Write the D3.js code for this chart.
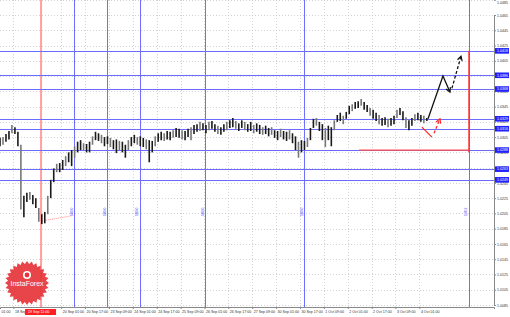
<!DOCTYPE html>
<html>
<head>
<meta charset="utf-8">
<script src="https://cdn.jsdelivr.net/npm/d3@7/dist/d3.min.js"></script>
<style>
body{margin:0;background:#fff}
svg{display:block;font-family:"Liberation Sans",Arial,sans-serif}
</style>
</head>
<body>
<div id="chart"></div>
<script>
// hourly chart, one bar per 2 hours (hour index from left edge)
var barHigh=[1.0304,1.0305,1.0309,1.0313,1.0321,1.0318,1.0312,1.0295,1.0228,1.0232,
1.0233,1.0229,1.0225,1.0212,1.0204,1.0207,1.0228,1.0249,1.0264,1.0270,
1.0271,1.0275,1.0280,1.0285,1.0288,1.0293,1.0299,1.0301,1.0297,1.0296,
1.0299,1.0306,1.0312,1.0310,1.0308,1.0305,1.0306,1.0304,1.0301,1.0302,
1.0300,1.0299,1.0295,1.0301,1.0305,1.0308,1.0305,1.0306,1.0304,1.0302,
1.0301,1.0300,1.0306,1.0310,1.0312,1.0310,1.0313,1.0312,1.0314,1.0317,
1.0316,1.0314,1.0313,1.0316,1.0318,1.0321,1.0322,1.0325,1.0323,1.0321,
1.0325,1.0326,1.0322,1.0320,1.0318,1.0322,1.0325,1.0327,1.0330,1.0326,
1.0323,1.0327,1.0325,1.0322,1.0325,1.0321,1.0323,1.0321,1.0318,1.0320,
1.0317,1.0318,1.0314,1.0313,1.0316,1.0313,1.0312,1.0314,1.0310,1.0306,
1.0299,1.0301,1.0300,1.0304,1.0317,1.0329,1.0330,1.0325,1.0322,1.0317,
1.0320,1.0318,1.0327,1.0334,1.0337,1.0333,1.0338,1.0346,1.0348,1.0351,
1.0352,1.0355,1.0351,1.0347,1.0343,1.0341,1.0337,1.0334,1.0330,1.0331,
1.0329,1.0330,1.0333,1.0341,1.0343,1.0339,1.0331,1.0327,1.0330,1.0335,
1.0337,1.0334,1.0333,1.0330];
var barLow=[1.0293,1.0295,1.0299,1.0302,1.0310,1.0309,1.0293,1.0210,1.0200,1.0220,
1.0223,1.0217,1.0212,1.0194,1.0191,1.0192,1.0204,1.0225,1.0246,1.0259,
1.0259,1.0262,1.0267,1.0272,1.0267,1.0278,1.0285,1.0288,1.0288,1.0285,
1.0285,1.0295,1.0301,1.0300,1.0297,1.0293,1.0296,1.0292,1.0289,1.0284,
1.0288,1.0285,1.0278,1.0288,1.0293,1.0297,1.0295,1.0293,1.0292,1.0289,
1.0272,1.0285,1.0293,1.0299,1.0301,1.0300,1.0302,1.0301,1.0304,1.0305,
1.0304,1.0302,1.0301,1.0305,1.0301,1.0309,1.0312,1.0313,1.0314,1.0310,
1.0314,1.0316,1.0312,1.0309,1.0308,1.0312,1.0314,1.0317,1.0318,1.0316,
1.0313,1.0317,1.0314,1.0312,1.0313,1.0310,1.0312,1.0309,1.0308,1.0309,
1.0306,1.0308,1.0304,1.0301,1.0305,1.0302,1.0300,1.0302,1.0297,1.0288,
1.0278,1.0285,1.0288,1.0292,1.0301,1.0317,1.0320,1.0313,1.0301,1.0292,
1.0301,1.0293,1.0314,1.0325,1.0326,1.0322,1.0329,1.0335,1.0339,1.0342,
1.0343,1.0346,1.0341,1.0338,1.0333,1.0329,1.0326,1.0322,1.0320,1.0321,
1.0318,1.0320,1.0322,1.0330,1.0334,1.0327,1.0317,1.0314,1.0320,1.0326,
1.0327,1.0325,1.0323,1.0326];

var priceTicks=[1.0485,1.0465,1.0445,1.0425,1.0405,1.0385,1.0365,1.0345,1.0325,1.0305,1.0285,
1.0265,1.0245,1.0225,1.0205,1.0185,1.0165,1.0145,1.0125,1.0105,1.0085];
// first two labels are partly hidden in the original (edge / red time box)
var timeHours=[-7,9,41,57,73,89,105,121,137,153,169,185,201,217,233,249,265,281];
var timeLabels=["01:00","18 Sep","20 Sep 01:00","20 Sep 17:00",
"23 Sep 09:00","24 Sep 01:00","24 Sep 17:00","25 Sep 09:00","26 Sep 01:00","26 Sep 17:00",
"27 Sep 09:00","30 Sep 01:00","30 Sep 17:00","1 Oct 09:00","2 Oct 01:00","2 Oct 17:00",
"3 Oct 09:00","4 Oct 01:00"];

var levels=[1.0418,1.0386,1.0368,1.0329,1.0316,1.0288,1.0263,1.0249];
var timeLines=[49.6,71.7,93.8,137.4,203.7,314.2];
var timeLineNames=["100.0","100.0","100.0","100.0","100.0","138.2"];
var redLineHour=27.5, redLineLabel="19 Sep 11:00";

// drawn objects: [hour, price]
var redTrend=[[28.1,1.0195],[48.2,1.0202]];
var redHoriz=[[240.5,1.0288],[314.2,1.0288]];
var redVert=[[314.2,1.0418],[314.2,1.0285]];
var blackUp=[[286.8,1.0329],[296.8,1.0385],[301.5,1.0364]];
var blackDash=[[302.8,1.0369],[308.9,1.0411]];
var redDown=[[282.7,1.0318],[289.4,1.0305]];
var redDash=[[290.8,1.0310],[294.8,1.0329]];

var W=510,H=317,plotR=494,plotB=307;

var svg=d3.select("#chart").append("svg").attr("width",W).attr("height",H);

var x=d3.scaleLinear().domain([0,331]).range([0,plotR]);
var y=d3.scaleLinear().domain([1.0085,1.0465]).range([305,15]);

// grid
svg.append("g").selectAll("line").data(priceTicks).enter().append("line")
  .attr("x1",0).attr("x2",plotR).attr("y1",d=>Math.round(y(d))+0.5).attr("y2",d=>Math.round(y(d))+0.5)
  .attr("stroke","#c8c8c8").attr("stroke-width",0.8).attr("stroke-dasharray","1,2");
svg.append("g").selectAll("line").data(timeHours).enter().append("line")
  .attr("x1",d=>Math.round(x(d))+0.5).attr("x2",d=>Math.round(x(d))+0.5).attr("y1",0).attr("y2",plotB)
  .attr("stroke","#c8c8c8").attr("stroke-width",0.8).attr("stroke-dasharray","1,2");

// red vertical line (wide, translucent)
svg.append("line").attr("x1",x(redLineHour)).attr("x2",x(redLineHour)).attr("y1",0).attr("y2",plotB)
  .attr("stroke","#ff6060").attr("stroke-opacity",0.6).attr("stroke-width",2);

// levels
svg.append("g").selectAll("line").data(levels).enter().append("line")
  .attr("x1",0).attr("x2",plotR).attr("y1",d=>Math.round(y(d))+0.5).attr("y2",d=>Math.round(y(d))+0.5)
  .attr("stroke","#6b6bff").attr("stroke-width",1);

// time lines
svg.append("g").selectAll("line").data(timeLines).enter().append("line")
  .attr("x1",d=>Math.round(x(d))+0.5).attr("x2",d=>Math.round(x(d))+0.5).attr("y1",0).attr("y2",plotB)
  .attr("stroke","#7070ff").attr("stroke-width",1);
svg.append("g").selectAll("text").data(timeLines).enter().append("text")
  .attr("transform",d=>"translate("+(x(d)-1.5)+",216) rotate(-90)")
  .attr("font-size",3.4).attr("fill","#5050ff").text((d,i)=>timeLineNames[i]);

var line=d3.line().x(d=>x(d[0])).y(d=>y(d[1]));

// red dotted trend
svg.append("path").attr("d",line(redTrend)).attr("fill","none")
  .attr("stroke","#ff7070").attr("stroke-width",0.8).attr("stroke-dasharray","1,1");

// bars
svg.append("g").selectAll("line").data(barHigh).enter().append("line")
  .attr("x1",(d,i)=>x(i*2)).attr("x2",(d,i)=>x(i*2))
  .attr("y1",d=>y(d)).attr("y2",(d,i)=>y(barLow[i]))
  .attr("stroke",(d,i)=>i%3==1?"#777":"#1a1a1a").attr("stroke-width",1.6);

// red horizontal & vertical
svg.append("path").attr("d",line(redHoriz)).attr("stroke","#ff5050").attr("stroke-width",1.2).attr("fill","none");
svg.append("path").attr("d",line(redVert)).attr("stroke","#ff2020").attr("stroke-width",1.2).attr("fill","none");

// arrows
function arrowHead(p0,p1,color){
  var ax=x(p1[0]),ay=y(p1[1]),a=Math.atan2(ay-y(p0[1]),ax-x(p0[0])),L=5;
  svg.append("path").attr("d","M"+(ax-L*Math.cos(a-0.5))+","+(ay-L*Math.sin(a-0.5))+"L"+ax+","+ay+"L"+(ax-L*Math.cos(a+0.5))+","+(ay-L*Math.sin(a+0.5)))
    .attr("fill","none").attr("stroke",color).attr("stroke-width",1.2);
}
svg.append("path").attr("d",line(blackUp)).attr("fill","none").attr("stroke","#111").attr("stroke-width",1.3);
arrowHead(blackUp[1],blackUp[2],"#111");
svg.append("path").attr("d",line(blackDash)).attr("fill","none").attr("stroke","#111").attr("stroke-width",1.3).attr("stroke-dasharray","3,2");
arrowHead(blackDash[0],blackDash[1],"#111");
svg.append("path").attr("d",line(redDown)).attr("fill","none").attr("stroke","#ff2020").attr("stroke-width",1.2);
svg.append("path").attr("d",line(redDash)).attr("fill","none").attr("stroke","#ff2020").attr("stroke-width",1.2).attr("stroke-dasharray","3,2");
arrowHead(redDash[0],redDash[1],"#ff2020");

// axes
var yAxis=svg.append("g").attr("transform","translate("+plotR+",0)")
  .call(d3.axisRight(y).tickValues(priceTicks).tickFormat(d3.format(".4f")).tickSize(2));
yAxis.select(".domain").attr("stroke","#888");
yAxis.selectAll(".tick line").attr("stroke","#888");
yAxis.selectAll(".tick text").attr("font-size",3.6).attr("fill","#333").attr("x",3)
  .attr("dy",(d,i)=>i==0?"0.95em":"0.32em");

var xAxis=svg.append("g").attr("transform","translate(0,"+plotB+")")
  .call(d3.axisBottom(x).tickValues(timeHours).tickFormat((d,i)=>timeLabels[i]).tickSize(2));
xAxis.select(".domain").attr("stroke","#888");
xAxis.selectAll(".tick line").attr("stroke","#888");
xAxis.selectAll(".tick text").attr("font-size",3.6).attr("fill","#333").attr("text-anchor","start")
  .attr("x",(d,i)=>i==0?1-x(d):1).attr("y",3);

// level price boxes
var boxes=svg.append("g").selectAll("g").data(levels).enter().append("g")
  .attr("transform",d=>"translate("+(plotR+1)+","+y(d)+")");
boxes.append("rect").attr("x",0).attr("y",-2.8).attr("width",14).attr("height",5.6).attr("fill","#2222ff");
boxes.append("text").attr("x",2).attr("y",1.3).attr("font-size",3.6).attr("fill","#fff").text(d=>d3.format(".4f")(d));

// red time box
var rb=svg.append("g").attr("transform","translate("+(x(redLineHour)-16)+","+(plotB+2)+")");
rb.append("rect").attr("width",31).attr("height",6).attr("fill","#ff2020");
rb.append("text").attr("x",3).attr("y",4.3).attr("font-size",3.6).attr("fill","#fff").text(redLineLabel);

// logo
var cx=27,cy=283,pts=[];
d3.range(56).forEach(function(k){var r=k%2?19:22,a=k*Math.PI/28;pts.push([cx+r*Math.cos(a),cy+r*Math.sin(a)]);});
svg.append("polygon").attr("points",pts.map(p=>p.join(",")).join(" ")).attr("fill","#e5353a").attr("fill-opacity",0.92);
svg.append("circle").attr("cx",cx).attr("cy",cy-8).attr("r",4).attr("fill","#fff");
svg.append("circle").attr("cx",cx).attr("cy",cy-8).attr("r",2.4).attr("fill","#e5353a");
svg.append("text").attr("x",cx).attr("y",cy+3).attr("text-anchor","middle").attr("font-size",7)
  .attr("fill","#fff").text("InstaForex");
</script>
</body>
</html>
